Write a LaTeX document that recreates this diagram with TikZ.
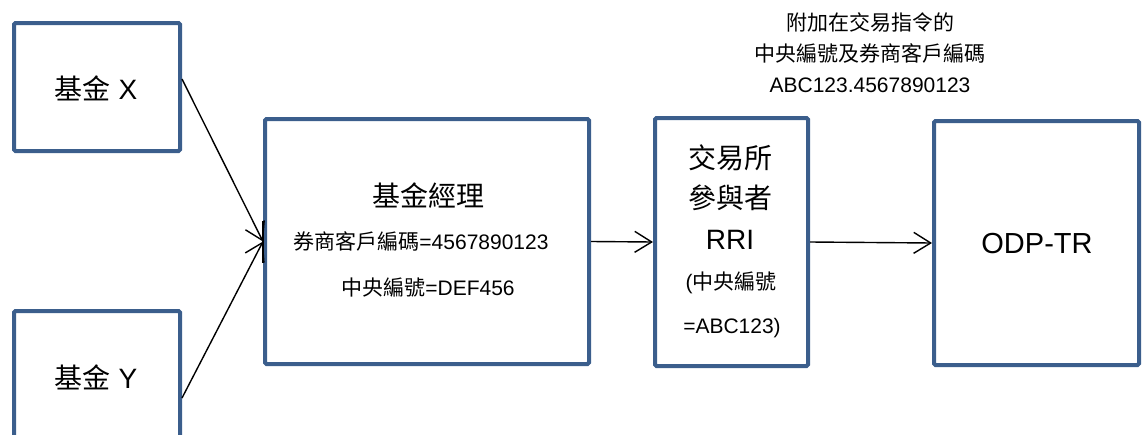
\documentclass[tikz,border=0pt]{standalone}
\usepackage{fontspec}
\setmainfont{Liberation Sans}
\newfontfamily\zhfont{Noto Sans CJK TC}
\usetikzlibrary{arrows.meta}
\definecolor{boxblue}{RGB}{59,94,140}
\newcommand{\zhtxt}[1]{{\zhfont #1}}

\begin{document}
\begin{tikzpicture}[x=1pt,y=-1pt,
	box/.style={draw=boxblue, line width=4pt, rounded corners=1.5pt, inner sep=0pt},
	bigtxt/.style={font=\fontsize{28}{34}\selectfont, inner sep=0pt},
	smalltxt/.style={font=\fontsize{21}{31}\selectfont, inner sep=0pt},
	link/.style={-{Straight Barb[length=17pt,width=21pt]}, line width=1.4pt}]
	\clip (0,0) rectangle (1143,434);
	% 方框
	\node[box, minimum width=166pt, minimum height=128pt] (fundx) at (97,87) {};
	\node[box, minimum width=166pt, minimum height=128pt] (fundy) at (97,375) {};
	\node[box, minimum width=324pt, minimum height=245pt] (manager) at (427,241.5) {};
	\node[box, minimum width=153pt, minimum height=248pt] (broker) at (731.5,242) {};
	\node[box, minimum width=205pt, minimum height=244pt] (odptr) at (1036.5,243) {};
	% 方框内文字
	\node[bigtxt] (fundxtxt) at (96,88) {\zhtxt{基金} X};
	\node[bigtxt] (fundytxt) at (96,377) {\zhtxt{基金} Y};
	\node[bigtxt] (mgrname) at (428,195) {\zhtxt{基金經理}};
	\node[smalltxt] (mgrcode) at (421,241) {\zhtxt{券商客戶編碼}=4567890123};
	\node[smalltxt] (mgrid) at (428,288) {\zhtxt{中央編號}=DEF456};
	\node[bigtxt] (brkname1) at (730,158) {\zhtxt{交易所}};
	\node[bigtxt] (brkname2) at (730,198) {\zhtxt{參與者}};
	\node[bigtxt] (brkrri) at (730,240) {RRI};
	\node[smalltxt] (brkid1) at (731,283) {(\zhtxt{中央編號}};
	\node[smalltxt] (brkid2) at (732,328) {=ABC123)};
	\node[font=\fontsize{29}{34}\selectfont, inner sep=0pt] (odptxt) at (1037,244) {ODP-TR};
	% 上方说明
	\node[smalltxt, align=center] (note) at (870,53)
		{\zhtxt{附加在交易指令的}\\\zhtxt{中央編號及券商客戶編碼}\\ABC123.4567890123};
	% 箭头
	\draw[link] ([yshift=8pt]fundx.east) -- (manager.west);
	\draw[link] ([yshift=-23pt]fundy.east) -- (manager.west);
	\draw[line width=1.5pt] ([yshift=21pt]manager.west) -- ([yshift=-21pt]manager.west);
	\draw[link] (manager.east) -- (broker.west);
	\draw[link] (broker.east) -- (odptr.west);
\end{tikzpicture}
\end{document}
